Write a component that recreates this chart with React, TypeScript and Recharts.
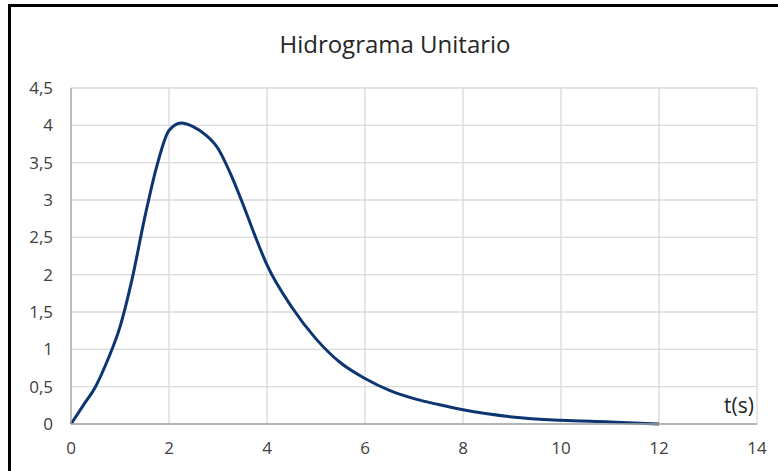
import { LineChart, Line, XAxis, YAxis, CartesianGrid } from "recharts";

const tiempos = [0, 0.25, 0.5, 0.75, 1, 1.25, 1.5, 1.75, 2, 2.25, 2.5, 2.75, 3, 3.25, 3.5, 3.75, 4, 4.5, 5, 5.5, 6, 6.5, 7, 7.5, 8, 9, 10, 11, 12];
const caudales = [0, 0.25, 0.5, 0.86, 1.3, 1.95, 2.75, 3.45, 3.93, 4.03, 3.98, 3.87, 3.69, 3.36, 2.96, 2.53, 2.13, 1.57, 1.14, 0.82, 0.61, 0.45, 0.34, 0.26, 0.19, 0.095, 0.05, 0.028, 0];

const xTicks = [0, 2, 4, 6, 8, 10, 12, 14];
const yTicks = [0, 0.5, 1, 1.5, 2, 2.5, 3, 3.5, 4, 4.5];

const titulo = "Hidrograma Unitario";
const ejeX = "t(s)";

const data = tiempos.map((t, i) => ({ t, q: caudales[i] }));

const font = "'Open Sans', sans-serif";
const tickStyle = { fontSize: 17, fill: "#404040", fontFamily: font };

export default function App() {
  return (
    <div
      style={{
        position: "absolute",
        left: 0,
        top: 0,
        width: 778,
        height: 471,
        overflow: "hidden",
        background: "#fff",
      }}
    >
      <div
        style={{
          position: "absolute",
          left: 8,
          top: 4,
          width: 900,
          height: 600,
          borderTop: "3px solid #000",
          borderLeft: "3px solid #000",
        }}
      />
      <LineChart
        width={778}
        height={471}
        data={data}
        margin={{ top: 88, right: 21, left: 0, bottom: 17 }}
        style={{ position: "absolute", left: 0, top: 0 }}
      >
        <CartesianGrid stroke="#d9d9d9" strokeWidth={1.3} />
        <XAxis
          dataKey="t"
          type="number"
          domain={[0, 14]}
          ticks={xTicks}
          interval={0}
          height={30}
          tickLine={false}
          tickSize={6}
          tickMargin={12}
          axisLine={{ stroke: "#a6a6a6", strokeWidth: 1.3 }}
          tick={tickStyle}
        />
        <YAxis
          type="number"
          domain={[0, 4.5]}
          ticks={yTicks}
          interval={0}
          width={71}
          tickLine={false}
          tickSize={6}
          tickMargin={12}
          axisLine={{ stroke: "#a6a6a6", strokeWidth: 1.3 }}
          tick={tickStyle}
          tickFormatter={(v: number) => String(v).replace(".", ",")}
        />
        <Line
          type="monotone"
          dataKey="q"
          stroke="#0c3572"
          strokeWidth={3}
          dot={false}
          isAnimationActive={false}
        />
      </LineChart>
      <svg
        width={778}
        height={471}
        style={{ position: "absolute", left: 0, top: 0, pointerEvents: "none" }}
      >
        <text x={395} y={53} textAnchor="middle" fontFamily={font} fontSize={24} fill="#262626">
          {titulo}
        </text>
        <text x={754} y={413} textAnchor="end" fontFamily={font} fontSize={21} fill="#262626">
          {ejeX}
        </text>
      </svg>
    </div>
  );
}
